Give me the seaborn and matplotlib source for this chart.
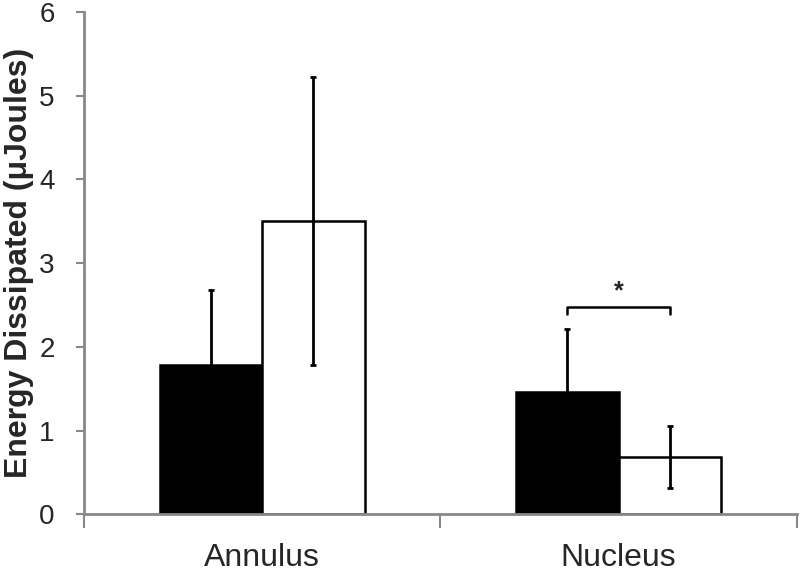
import pandas as pd
import matplotlib.pyplot as plt
import seaborn as sns

# Dữ liệu
regions = ["Annulus", "Nucleus"]
groups = ["A", "B"]
energy_a = [1.78, 1.46]
energy_b = [3.50, 0.68]
err_a = [0.90, 0.75]
err_b = [1.72, 0.37]

df = pd.DataFrame({
    "region": regions * 2,
    "group": [groups[0]] * 2 + [groups[1]] * 2,
    "energy": energy_a + energy_b,
    "err": err_a + err_b,
})

sns.set_style("white")
plt.rcParams["font.family"] = ["Liberation Sans", "DejaVu Sans"]

fig = plt.figure(figsize=(8, 5.72), dpi=100)
ax = fig.add_axes([0.105, 0.101, 0.891, 0.878])

sns.barplot(data=df, x="region", y="energy", hue="group",
            palette={"A": "black", "B": "white"}, width=0.575,
            errorbar=None, edgecolor="black", linewidth=1.8,
            legend=False, ax=ax)

# Thanh sai số
for p, (_, row) in zip(ax.patches, df.iterrows()):
    xc = p.get_x() + p.get_width() / 2
    ax.errorbar(xc, row["energy"], yerr=row["err"], fmt="none",
                ecolor="black", elinewidth=2, capsize=2.5, capthick=2, zorder=5)

# Dấu sao có ý nghĩa thống kê (Nucleus)
x1 = ax.patches[1].get_x() + ax.patches[1].get_width() / 2
x2 = ax.patches[3].get_x() + ax.patches[3].get_width() / 2
ax.plot([x1, x1, x2, x2], [2.39, 2.48, 2.48, 2.39], color="black", lw=1.8)
ax.text((x1 + x2) / 2, 2.52, "*", ha="center", va="bottom",
        fontsize=18, fontweight="bold")

ax.set_ylim(0, 6)
ax.set_xlim(-0.5, 1.5)
ax.set_yticks(range(0, 7))
ax.set_xticks([-0.5, 0.5, 1.5])
ax.set_xticklabels([])
ax.set_xticks([0, 1], minor=True)
ax.set_xticklabels(regions, minor=True)
ax.tick_params(axis="x", which="major", direction="out", length=10,
               width=1.5, color="#888888", bottom=True)
ax.tick_params(axis="x", which="minor", length=0, pad=21, labelsize=23)
ax.tick_params(axis="y", direction="out", length=6, width=1.5,
               color="#888888", left=True, labelsize=20, pad=15)

for s in ["top", "right"]:
    ax.spines[s].set_visible(False)
for s in ["left", "bottom"]:
    ax.spines[s].set_color("#888888")
    ax.spines[s].set_linewidth(2)

ax.set_xlabel("")
ax.set_ylabel("Energy Dissipated (μJoules)", fontsize=23, fontweight="bold")
ax.yaxis.set_label_coords(-0.070, 0.5)

plt.savefig("out.png", dpi=100)
